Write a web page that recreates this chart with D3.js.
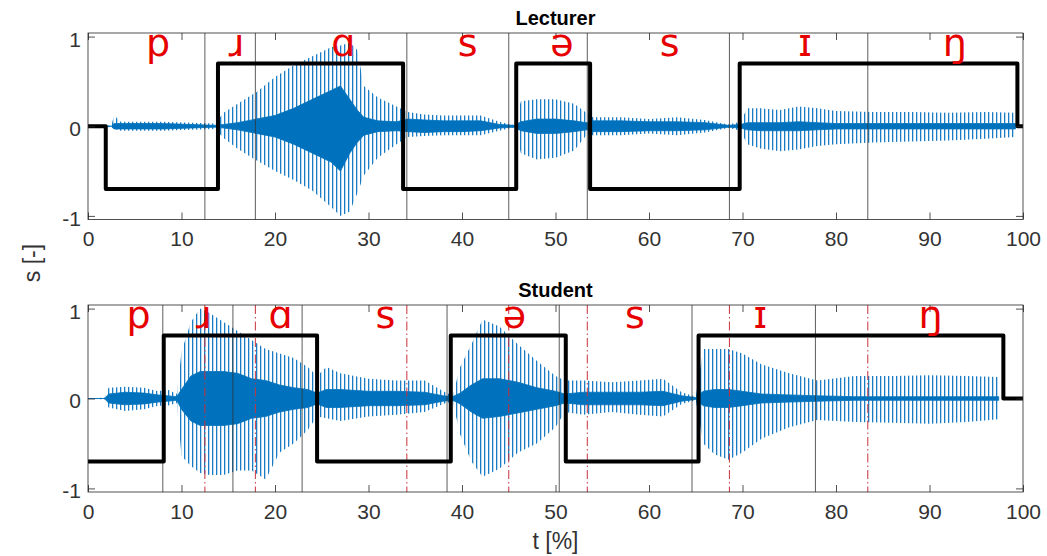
<!DOCTYPE html>
<html>
<head>
<meta charset="utf-8">
<script src="https://cdn.jsdelivr.net/npm/d3@7"></script>
<style>
  body { margin: 0; background: #fff; }
  text { font-family: "Liberation Sans", Arial, Helvetica, sans-serif; }
</style>
</head>
<body>
<div id="chart"></div>
<script>
// tick values
var xTicks = [0, 10, 20, 30, 40, 50, 60, 70, 80, 90, 100];
var yTicks = [-1, 0, 1];

// phoneme labels and where they sit (t in %)
var phonemes = ["p", "ɹ", "ɑ", "s", "ə", "s", "ɪ", "ŋ"];
var lecturerLabelT = [7.5, 15.9, 27.3, 40.6, 50.7, 62.2, 76.7, 92.7];
var studentLabelT = [5.4, 12.4, 20.6, 31.8, 45.6, 58.5, 71.9, 90.1];

// phoneme boundaries (t in %)
var lecturerBounds = [12.5, 17.9, 34.1, 45.0, 53.4, 68.6, 83.4];
var studentBounds = [8.0, 15.5, 22.9, 38.4, 50.4, 64.6, 77.8];

// voicing gate (square wave): switch times and levels
var lecturerGateT = [0, 1.9, 13.9, 33.7, 45.8, 53.7, 69.7, 99.4];
var lecturerGateLevel = [0, -0.7, 0.7, -0.7, 0.7, -0.7, 0.7, 0];
var studentGateT = [0, 8.1, 24.5, 38.8, 51.1, 65.3, 97.9];
var studentGateLevel = [-0.7, 0.7, -0.7, 0.7, -0.7, 0.7, 0];

// signal envelopes: outer (spike tips) and dense core
var lecT      = [0, 2.5, 2.8, 3.5, 8, 13.6, 14.5, 16, 18, 20, 22, 24, 26, 27, 28, 28.8, 29.5, 31, 33, 34.2, 36, 38, 40, 42, 44, 45.6, 46.3, 48, 50, 52, 53.3, 54, 57, 60, 63, 66, 68.5, 69.8, 70.5, 72, 74, 76, 78, 80, 84, 88, 92, 96, 99.2];
var lecHi     = [0, 0.01, 0.12, 0.05, 0.05, 0.03, 0.15, 0.25, 0.38, 0.55, 0.68, 0.78, 0.88, 0.9, 0.93, 0.85, 0.45, 0.32, 0.22, 0.16, 0.13, 0.12, 0.12, 0.12, 0.05, 0.01, 0.28, 0.3, 0.3, 0.25, 0.15, 0.1, 0.1, 0.08, 0.1, 0.07, 0.02, 0.05, 0.2, 0.2, 0.18, 0.22, 0.2, 0.17, 0.16, 0.16, 0.15, 0.16, 0.15];
var lecLo     = [0, -0.01, -0.03, -0.05, -0.05, -0.03, -0.13, -0.25, -0.38, -0.5, -0.6, -0.72, -0.9, -1.0, -0.95, -0.75, -0.55, -0.35, -0.2, -0.12, -0.11, -0.1, -0.1, -0.1, -0.05, -0.01, -0.3, -0.37, -0.35, -0.27, -0.1, -0.1, -0.1, -0.08, -0.1, -0.07, -0.02, -0.05, -0.2, -0.25, -0.28, -0.26, -0.22, -0.2, -0.18, -0.17, -0.16, -0.14, -0.12];
var lecCoreHi = [0, 0, 0.03, 0.03, 0.03, 0.01, 0.02, 0.04, 0.08, 0.12, 0.2, 0.3, 0.4, 0.45, 0.3, 0.18, 0.1, 0.06, 0.05, 0.08, 0.07, 0.06, 0.06, 0.06, 0.02, 0.01, 0.05, 0.08, 0.08, 0.06, 0.04, 0.06, 0.06, 0.05, 0.05, 0.04, 0.01, 0.02, 0.04, 0.04, 0.04, 0.05, 0.04, 0.03, 0.03, 0.03, 0.03, 0.03, 0.03];
var lecCoreLo = [0, 0, -0.03, -0.03, -0.03, -0.01, -0.02, -0.04, -0.08, -0.12, -0.2, -0.3, -0.4, -0.5, -0.3, -0.18, -0.1, -0.06, -0.05, -0.06, -0.07, -0.06, -0.06, -0.05, -0.02, -0.01, -0.05, -0.08, -0.08, -0.06, -0.04, -0.06, -0.06, -0.05, -0.05, -0.04, -0.01, -0.02, -0.04, -0.05, -0.05, -0.05, -0.04, -0.03, -0.03, -0.03, -0.03, -0.03, -0.03];

var stuT      = [0, 1.8, 2.2, 4, 6, 7.5, 8.5, 9.5, 10, 11, 12, 13, 14.5, 16, 17.5, 19, 20.5, 22, 23.5, 24.5, 25.5, 27, 30, 33, 36, 38, 39, 39.8, 41, 42.2, 44, 46, 48, 50, 51, 53, 56, 59, 61.5, 63.5, 65, 65.8, 67, 68.5, 70, 72, 75, 78, 82, 86, 90, 94, 97.4];
var stuHi     = [0, 0.01, 0.12, 0.13, 0.12, 0.08, 0.1, 0.05, 0.52, 0.85, 1.0, 0.95, 0.85, 0.75, 0.65, 0.55, 0.5, 0.45, 0.35, 0.25, 0.35, 0.28, 0.22, 0.2, 0.2, 0.08, 0.03, 0.35, 0.6, 0.88, 0.8, 0.6, 0.42, 0.25, 0.2, 0.2, 0.18, 0.2, 0.22, 0.07, 0.02, 0.55, 0.55, 0.55, 0.5, 0.38, 0.28, 0.2, 0.25, 0.25, 0.26, 0.25, 0.24];
var stuLo     = [0, -0.01, -0.1, -0.14, -0.12, -0.08, -0.08, -0.05, -0.64, -0.75, -0.83, -0.85, -0.85, -0.8, -0.8, -0.9, -0.6, -0.5, -0.35, -0.2, -0.22, -0.25, -0.2, -0.18, -0.15, -0.06, -0.03, -0.4, -0.7, -0.87, -0.78, -0.6, -0.5, -0.32, -0.15, -0.18, -0.15, -0.18, -0.2, -0.06, -0.02, -0.5, -0.62, -0.68, -0.6, -0.45, -0.32, -0.24, -0.26, -0.27, -0.28, -0.26, -0.23];
var stuCoreHi = [0, 0, 0.05, 0.07, 0.06, 0.04, 0.03, 0.02, 0.1, 0.25, 0.3, 0.3, 0.3, 0.28, 0.22, 0.2, 0.15, 0.12, 0.1, 0.06, 0.1, 0.1, 0.08, 0.08, 0.07, 0.03, 0.02, 0.06, 0.15, 0.22, 0.22, 0.18, 0.12, 0.08, 0.05, 0.07, 0.07, 0.07, 0.08, 0.03, 0.01, 0.08, 0.1, 0.1, 0.08, 0.05, 0.04, 0.03, 0.02, 0.02, 0.02, 0.02, 0.02];
var stuCoreLo = [0, 0, -0.05, -0.07, -0.06, -0.04, -0.03, -0.02, -0.12, -0.25, -0.3, -0.3, -0.3, -0.28, -0.22, -0.2, -0.15, -0.12, -0.1, -0.06, -0.1, -0.1, -0.08, -0.08, -0.07, -0.03, -0.02, -0.06, -0.15, -0.22, -0.2, -0.16, -0.12, -0.08, -0.05, -0.07, -0.07, -0.07, -0.08, -0.03, -0.01, -0.08, -0.1, -0.1, -0.08, -0.05, -0.04, -0.03, -0.02, -0.02, -0.02, -0.02, -0.02];

var width = 1047, height = 556;
var blue = "#0072BD", red = "#e60000", ink = "#262626";

var svg = d3.select("#chart")
  .append("svg")
    .attr("width", width)
    .attr("height", height)
    .style("background", "#fff");

// vertical hatch to imitate the dense glottal pulses
svg.append("defs").append("pattern")
    .attr("id", "pulses")
    .attr("patternUnits", "userSpaceOnUse")
    .attr("width", 4)
    .attr("height", 8)
  .append("rect")
    .attr("width", 1.3)
    .attr("height", 8)
    .attr("fill", "#1a7cc4");

var x = d3.scaleLinear().domain([0, 100]).range([88, 1023]);

var panels = [
  { title: "Lecturer", top: 33, bottom: 219.5,
    t: lecT, hi: lecHi, lo: lecLo, ch: lecCoreHi, cl: lecCoreLo,
    gateT: lecturerGateT, gateL: lecturerGateLevel,
    labelT: lecturerLabelT, bounds: lecturerBounds, dashed: [] },
  { title: "Student", top: 305, bottom: 492,
    t: stuT, hi: stuHi, lo: stuLo, ch: stuCoreHi, cl: stuCoreLo,
    gateT: studentGateT, gateL: studentGateLevel,
    labelT: studentLabelT, bounds: studentBounds, dashed: lecturerBounds }
];

panels.forEach(function(p) {
  var y = d3.scaleLinear().domain([-1.04, 1.04]).range([p.bottom, p.top]);
  var g = svg.append("g");

  var rows = p.t.map(function(t, k) {
    return { t: t, hi: p.hi[k], lo: p.lo[k], ch: p.ch[k], cl: p.cl[k] };
  });

  // signal: outer spikes
  g.append("path")
    .datum(rows)
    .attr("d", d3.area().x(function(d) { return x(d.t); })
      .y0(function(d) { return y(d.lo); })
      .y1(function(d) { return y(d.hi); }))
    .attr("fill", "url(#pulses)");

  // signal: dense core
  g.append("path")
    .datum(rows)
    .attr("d", d3.area().x(function(d) { return x(d.t); })
      .y0(function(d) { return y(d.cl); })
      .y1(function(d) { return y(d.ch); }))
    .attr("fill", blue)
    .attr("stroke", blue)
    .attr("stroke-width", 0.8);

  // phoneme boundaries
  g.selectAll(".bound")
    .data(p.bounds)
    .enter().append("line")
      .attr("x1", function(d) { return x(d); })
      .attr("x2", function(d) { return x(d); })
      .attr("y1", p.top)
      .attr("y2", p.bottom)
      .attr("stroke", "#333")
      .attr("stroke-width", 0.8);

  // lecturer boundaries overlaid (dash-dot)
  g.selectAll(".dash")
    .data(p.dashed)
    .enter().append("line")
      .attr("x1", function(d) { return x(d); })
      .attr("x2", function(d) { return x(d); })
      .attr("y1", p.top)
      .attr("y2", p.bottom)
      .attr("stroke", "#c8323c")
      .attr("stroke-width", 1)
      .attr("stroke-dasharray", "9,3,1.5,3");

  // voicing gate
  var pts = p.gateT.map(function(t, k) { return [t, p.gateL[k]]; });
  pts.push([100, p.gateL[p.gateL.length - 1]]);
  g.append("path")
    .datum(pts)
    .attr("d", d3.line().curve(d3.curveStepAfter)
      .x(function(d) { return x(d[0]); })
      .y(function(d) { return y(d[1]); }))
    .attr("fill", "none")
    .attr("stroke", "#000")
    .attr("stroke-width", 4)
    .attr("stroke-linejoin", "round");

  // axes box
  g.append("rect")
    .attr("x", x(0))
    .attr("y", p.top)
    .attr("width", x(100) - x(0))
    .attr("height", p.bottom - p.top)
    .attr("fill", "none")
    .attr("stroke", ink)
    .attr("stroke-width", 0.8);

  var xb = g.append("g")
    .attr("transform", "translate(0," + p.bottom + ")")
    .call(d3.axisBottom(x).tickValues(xTicks).tickSize(-7).tickPadding(12));
  var xt = g.append("g")
    .attr("transform", "translate(0," + p.top + ")")
    .call(d3.axisTop(x).tickValues(xTicks).tickSize(-7).tickFormat(""));
  var yl = g.append("g")
    .attr("transform", "translate(" + x(0) + ",0)")
    .call(d3.axisLeft(y).tickValues(yTicks).tickSize(-7).tickPadding(7)
      .tickFormat(function(d) { return String(d); }));
  var yr = g.append("g")
    .attr("transform", "translate(" + x(100) + ",0)")
    .call(d3.axisRight(y).tickValues(yTicks).tickSize(-7).tickFormat(""));

  [xb, xt, yl, yr].forEach(function(a) {
    a.select(".domain").remove();
    a.selectAll("line").attr("stroke", ink).attr("stroke-width", 0.8);
    a.selectAll("text")
      .attr("fill", "#333")
      .style("font-size", "21px")
      .style("font-family", "'Liberation Sans', Arial, sans-serif");
  });
  yl.selectAll("text").attr("dy", "0.45em");

  // phoneme labels
  g.selectAll(".ph")
    .data(phonemes)
    .enter().append("text")
      .attr("x", function(d, i) { return x(p.labelT[i]); })
      .attr("y", p.top + 22.5)
      .attr("text-anchor", "middle")
      .attr("fill", red)
      .style("font-family", "'DejaVu Sans', sans-serif")
      .style("font-size", "38px")
      .text(function(d) { return d; });

  // title
  g.append("text")
    .attr("x", (x(0) + x(100)) / 2)
    .attr("y", p.top - 8)
    .attr("text-anchor", "middle")
    .attr("fill", "#000")
    .style("font-size", "20px")
    .style("font-weight", "bold")
    .text(p.title);
});

// axis labels
svg.append("text")
  .attr("x", (x(0) + x(100)) / 2)
  .attr("y", 549)
  .attr("text-anchor", "middle")
  .attr("fill", "#333")
  .style("font-size", "23px")
  .text("t [%]");

svg.append("text")
  .attr("transform", "translate(40,263) rotate(-90)")
  .attr("text-anchor", "middle")
  .attr("fill", "#333")
  .style("font-size", "23px")
  .text("s [-]");
</script>
</body>
</html>
